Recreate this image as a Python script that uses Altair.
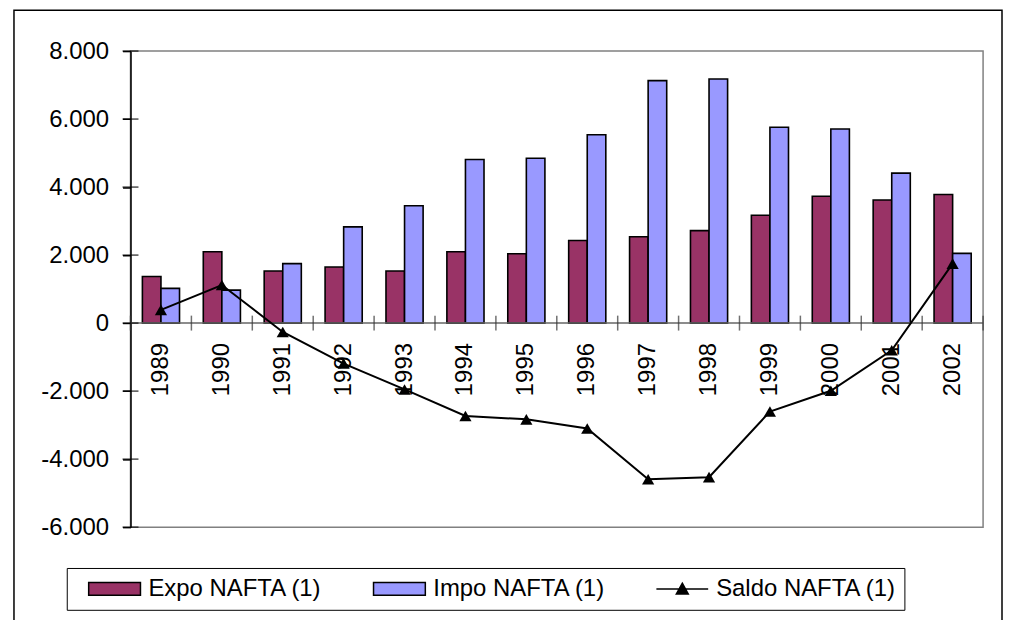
import altair as alt
import pandas as pd

# ---- data ----
years = ['1989', '1990', '1991', '1992', '1993', '1994', '1995',
         '1996', '1997', '1998', '1999', '2000', '2001', '2002']
expo = [1370, 2100, 1530, 1650, 1530, 2100, 2040, 2430, 2540, 2720, 3170, 3730, 3620, 3780]
impo = [1020, 970, 1750, 2830, 3450, 4810, 4850, 5540, 7130, 7180, 5760, 5710, 4410, 2050]
saldo = [390, 1120, -260, -1190, -1950, -2730, -2830, -3100, -4590, -4530, -2600, -1990, -800, 1750]
y_ticks = [-6000, -4000, -2000, 0, 2000, 4000, 6000, 8000]

EXPO = 'Expo NAFTA (1)'
IMPO = 'Impo NAFTA (1)'
SALDO = 'Saldo NAFTA (1)'
series = [EXPO, IMPO, SALDO]
colors = ['#993366', '#9999FF', '#000000']

bars_df = pd.DataFrame({
    'year': years * 2,
    'serie': [EXPO] * len(years) + [IMPO] * len(years),
    'value': expo + impo,
})
saldo_df = pd.DataFrame({'year': years, 'value': saldo})
year_df = pd.DataFrame({'year': years})
last_df = pd.DataFrame({'year': years[-1:]})
tick_df = pd.DataFrame({'value': y_ticks})
one_df = pd.DataFrame({'a': [0]})

FONT = 'Liberation Sans'
W, H = 856, 478

x_scale = alt.Scale(domain=years, paddingInner=0, paddingOuter=0)
y_scale = alt.Scale(domain=[-6000, 8000], nice=False, zero=False)

y_axis = alt.Axis(
    values=y_ticks, format=',.0f',
    labelFont=FONT, labelFontSize=24, labelColor='black', labelPadding=14,
    domainColor='black', domainWidth=1.5,
    tickColor='black', tickWidth=1.5, tickSize=8,
    grid=False, title=None,
)


def xenc(**kw):
    return alt.X('year:N', scale=x_scale, axis=None, **kw)


def yfield():
    return alt.Y('value:Q', scale=y_scale, axis=y_axis)


def yzero():
    return alt.Y(datum=0, type='quantitative', scale=y_scale, axis=y_axis)


sym_expr = ("datum.value === 'Saldo NAFTA (1)' ? "
            "'M-1,0H1M0,-0.22L0.23,0.2H-0.23Z' : 'M-1,-0.25H1V0.25H-1Z'")

legend = alt.Legend(
    orient='none', legendX=-64, legendY=519,
    direction='horizontal', columns=3, title=None,
    padding=8, strokeColor='black', fillColor='white',
    symbolSize=2704, symbolType=alt.ExprRef(expr=sym_expr),
    symbolOffset=13, labelOffset=7, clipHeight=26, columnPadding=37,
    labelFont=FONT, labelFontSize=24, labelColor='black', labelLimit=0,
    symbolStrokeColor='black', symbolStrokeWidth=1.5, symbolOpacity=1,
)

bars = alt.Chart(bars_df).mark_bar(stroke='black', strokeWidth=1.6).encode(
    x=xenc(),
    xOffset=alt.XOffset('serie:N', scale=alt.Scale(domain=[EXPO, IMPO], paddingInner=0, paddingOuter=0.64)),
    y=yfield(),
    color=alt.Color('serie:N', scale=alt.Scale(domain=series, range=colors), legend=legend),
)

border = alt.Chart(one_df).mark_rect(
    fillOpacity=0, stroke='black', strokeWidth=1.5
).encode(
    x=alt.value(-117), x2=alt.value(W + 19),
    y=alt.value(-41), y2=alt.value(H + 250),
)

zero_line = alt.Chart(one_df).mark_rule(color='#666666', strokeWidth=1.5).encode(
    y=yzero()
)

cat_ticks = alt.Chart(year_df).mark_tick(
    orient='vertical', size=15, thickness=1.5, color='#333333'
).encode(x=xenc(bandPosition=0), y=yzero())

end_tick = alt.Chart(last_df).mark_tick(
    orient='vertical', size=15, thickness=1.5, color='#333333'
).encode(x=xenc(bandPosition=1), y=yzero())

year_labels = alt.Chart(year_df).mark_text(
    angle=270, align='right', baseline='middle', dx=-20,
    font=FONT, fontSize=24, color='black'
).encode(x=xenc(), y=yzero(), text='year:N')

inner_ticks = alt.Chart(tick_df).mark_tick(
    orient='horizontal', size=16, thickness=1.5, color='black'
).encode(y=yfield(), x=alt.value(0))

line = alt.Chart(saldo_df).mark_line(color='black', strokeWidth=2).encode(
    x=xenc(), y=yfield()
)

points = alt.Chart(saldo_df).mark_point(
    shape='triangle-up', filled=True, size=150, color='black', opacity=1
).encode(x=xenc(), y=yfield())

chart = alt.layer(
    bars, border, zero_line, cat_ticks, end_tick, year_labels, inner_ticks, line, points
).properties(
    width=W, height=H,
    autosize=alt.AutoSizeParams(type='none'),
    padding={'left': 123, 'top': 42, 'right': 20, 'bottom': 92},
    background='white',
).configure(
    locale={'number': {'decimal': ',', 'thousands': '.', 'grouping': [3],
                       'currency': ['', ''], 'minus': '-'}},
    view={'stroke': '#808080', 'strokeWidth': 1.5},
)

chart.save('out.html', embed_options={'renderer': 'svg', 'actions': False})
